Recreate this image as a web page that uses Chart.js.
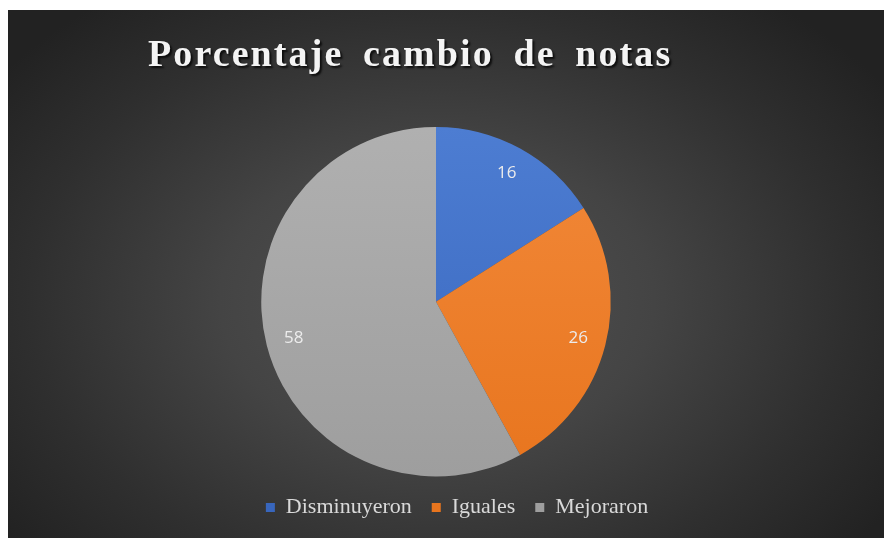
<!DOCTYPE html>
<html lang="es">
<head>
<meta charset="utf-8">
<title>Porcentaje cambio de notas</title>
<script src="https://cdn.jsdelivr.net/npm/chart.js@4/dist/chart.umd.min.js"></script>
<style>
  html, body { margin: 0; padding: 0; background: #fff; }
  #frame {
    position: absolute;
    left: 8px;
    top: 10px;
    width: 876px;
    height: 528px;
    background: radial-gradient(ellipse 62% 72% at 49% 55%, #535353 0%, #444 40%, #2f2f2f 75%, #222 100%);
  }
  canvas { display: block; }
</style>
</head>
<body>
<div id="frame"><canvas id="notas-chart" width="876" height="528"></canvas></div>
<script>
const TITLE = 'Porcentaje cambio de notas';
const categories = ['Disminuyeron', 'Iguales', 'Mejoraron'];
const percentages = [16, 26, 58];

// top / bottom colour of each slice
const sliceColors = [
  ['#4d7dd2', '#3866bd'],
  ['#f2893a', '#e8751e'],
  ['#b0b0b0', '#9e9e9e']
];

function sliceFill(ctx) {
  const pair = sliceColors[ctx.dataIndex];
  const area = ctx.chart.chartArea;
  if (!area) return pair[0];
  const grad = ctx.chart.ctx.createLinearGradient(0, area.top, 0, area.bottom);
  grad.addColorStop(0, pair[0]);
  grad.addColorStop(1, pair[1]);
  return grad;
}

// spaced serif heading with a drop shadow
const headingPlugin = {
  id: 'heading',
  afterDraw(chart) {
    const ctx = chart.ctx;
    ctx.save();
    ctx.font = 'bold 38px "Liberation Serif", "Times New Roman", serif';
    ctx.letterSpacing = '2.1px';
    ctx.wordSpacing = '8px';
    ctx.textAlign = 'left';
    ctx.textBaseline = 'alphabetic';
    ctx.shadowColor = 'rgba(0, 0, 0, 0.75)';
    ctx.shadowOffsetX = 2;
    ctx.shadowOffsetY = 2;
    ctx.shadowBlur = 2;
    ctx.fillStyle = '#f4f4f4';
    ctx.fillText(TITLE, 140, 56);
    ctx.restore();
  }
};

// the legend row sits a little right of the pie
const legendShiftPlugin = {
  id: 'legendShift',
  afterLayout(chart) {
    chart.legend.left += 21;
    chart.legend.right += 21;
  }
};

// value inside each slice
const sliceValuePlugin = {
  id: 'sliceValue',
  afterDatasetsDraw(chart) {
    const ctx = chart.ctx;
    const meta = chart.getDatasetMeta(0);
    ctx.save();
    ctx.font = '17px "Open Sans", "Liberation Sans", sans-serif';
    ctx.fillStyle = '#ececec';
    ctx.textAlign = 'center';
    ctx.textBaseline = 'middle';
    meta.data.forEach((arc, i) => {
      const { x, y, startAngle, endAngle, outerRadius } =
        arc.getProps(['x', 'y', 'startAngle', 'endAngle', 'outerRadius'], true);
      const mid = (startAngle + endAngle) / 2;
      const r = outerRadius * 0.84;
      ctx.fillText(String(chart.data.datasets[0].data[i]), x + Math.cos(mid) * r, y + Math.sin(mid) * r);
    });
    ctx.restore();
  }
};

new Chart(document.getElementById('notas-chart'), {
  type: 'pie',
  data: {
    labels: categories,
    datasets: [{
      data: percentages,
      backgroundColor: sliceFill,
      borderWidth: 0
    }]
  },
  options: {
    responsive: false,
    animation: false,
    layout: {
      padding: { top: 117, bottom: 9.5, left: 0, right: 20 }
    },
    plugins: {
      title: { display: false },
      tooltip: { enabled: false },
      legend: {
        position: 'bottom',
        labels: {
          boxWidth: 9,
          boxHeight: 9,
          padding: 20,
          color: '#d9d9d9',
          font: { family: '"Liberation Serif", "Times New Roman", serif', size: 22 }
        }
      }
    }
  },
  plugins: [headingPlugin, legendShiftPlugin, sliceValuePlugin]
});
</script>
</body>
</html>
